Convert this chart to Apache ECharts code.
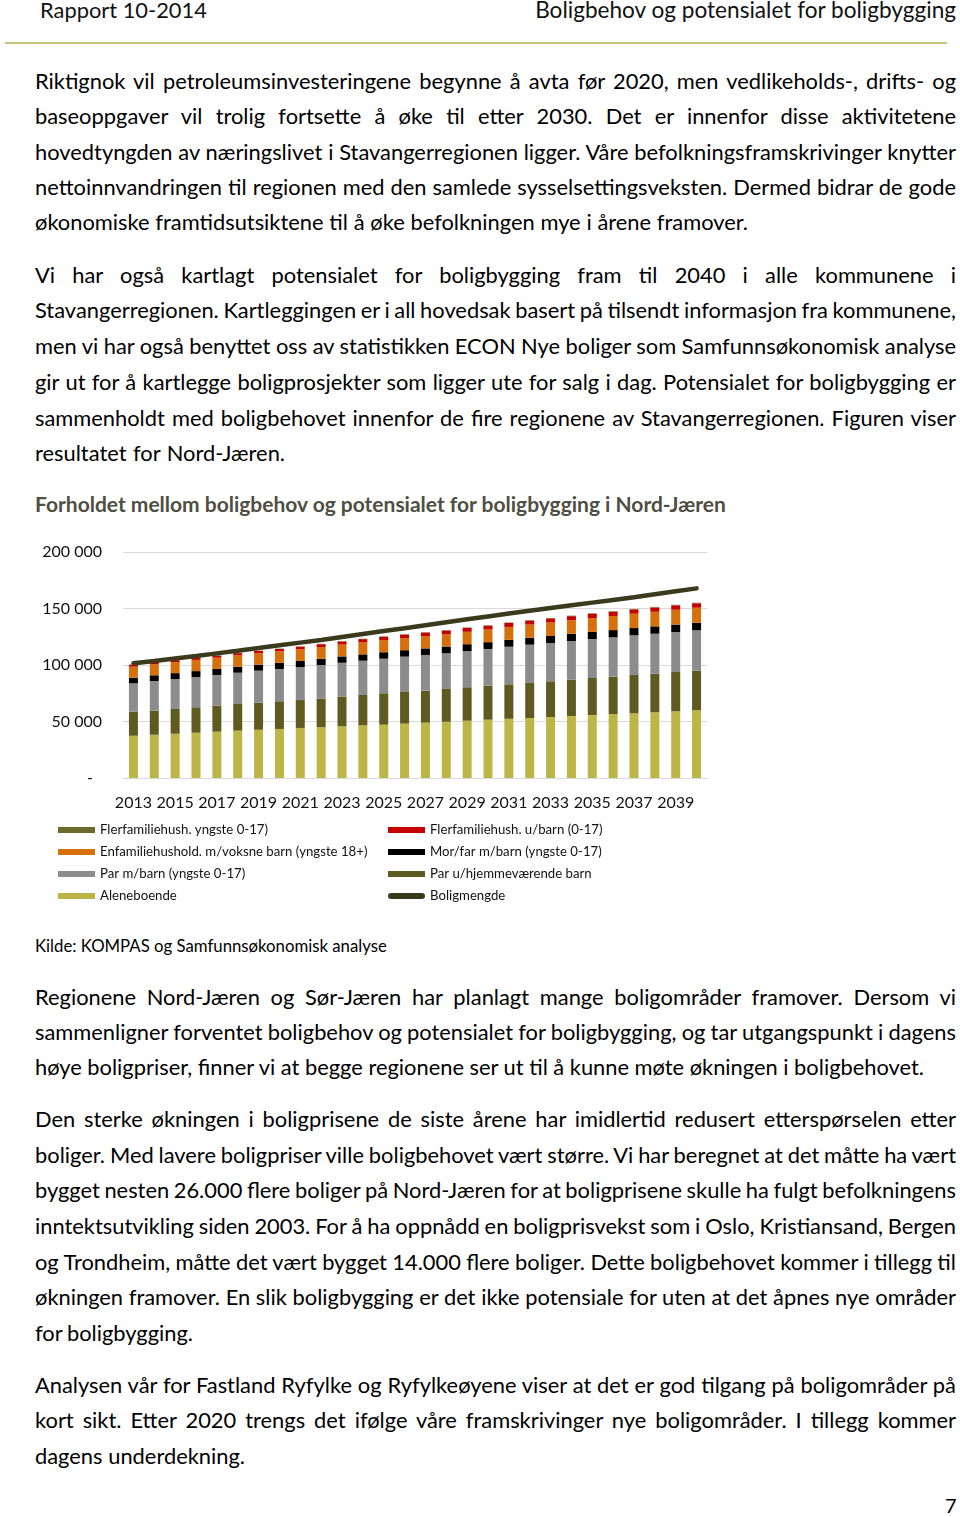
<!DOCTYPE html>
<html>
<head>
<meta charset="utf-8">
<script src="https://cdn.jsdelivr.net/npm/echarts@6/dist/echarts.min.js"></script>
<style>
html,body{margin:0;padding:0;background:#fff;}
body{width:960px;height:1517px;position:relative;overflow:hidden;font-family:Lato,"Open Sans",sans-serif;color:#000;}
.t{position:absolute;left:35px;white-space:nowrap;font-size:20px;line-height:24px;margin-top:1px;}
.hd{position:absolute;white-space:nowrap;font-size:22px;line-height:24px;color:#111;}
#hline{position:absolute;left:5px;top:42px;width:942px;height:2px;background:#c9c27a;}
#chart{position:absolute;left:0;top:530px;width:960px;height:390px;}
</style>
</head>
<body>
<div class="hd fs" style="left:40px;top:-2px" data-w="167">Rapport 10-2014</div>
<div class="hd fs" style="right:4px;top:-2px" data-w="421">Boligbehov og potensialet for boligbygging</div>
<div id="hline"></div>

<div class="t b" style="top:68px" data-w="921">Riktignok vil petroleumsinvesteringene begynne å avta før 2020, men vedlikeholds-, drifts- og</div>
<div class="t b" style="top:103px" data-w="921">baseoppgaver vil trolig fortsette å øke til etter 2030. Det er innenfor disse aktivitetene</div>
<div class="t b" style="top:139px" data-w="921">hovedtyngden av næringslivet i Stavangerregionen ligger. Våre befolkningsframskrivinger knytter</div>
<div class="t b" style="top:174px" data-w="921">nettoinnvandringen til regionen med den samlede sysselsettingsveksten. Dermed bidrar de gode</div>
<div class="t b last" style="top:209px" data-w="713">økonomiske framtidsutsiktene til å øke befolkningen mye i årene framover.</div>

<div class="t b" style="top:262px" data-w="921">Vi har også kartlagt potensialet for boligbygging fram til 2040 i alle kommunene i</div>
<div class="t b" style="top:297px" data-w="921">Stavangerregionen. Kartleggingen er i all hovedsak basert på tilsendt informasjon fra kommunene,</div>
<div class="t b" style="top:333px" data-w="921">men vi har også benyttet oss av statistikken ECON Nye boliger som Samfunnsøkonomisk analyse</div>
<div class="t b" style="top:369px" data-w="921">gir ut for å kartlegge boligprosjekter som ligger ute for salg i dag. Potensialet for boligbygging er</div>
<div class="t b" style="top:405px" data-w="921">sammenholdt med boligbehovet innenfor de fire regionene av Stavangerregionen. Figuren viser</div>
<div class="t b last" style="top:440px" data-w="250">resultatet for Nord-Jæren.</div>

<div class="t fs" style="top:491px;font-weight:bold;color:#4f4e42" data-w="691">Forholdet mellom boligbehov og potensialet for boligbygging i Nord-Jæren</div>

<div id="chart"></div>

<div class="t fs" style="top:935px;font-size:16px;line-height:20px" data-w="352">Kilde: KOMPAS og Samfunnsøkonomisk analyse</div>

<div class="t b" style="top:984px" data-w="921">Regionene Nord-Jæren og Sør-Jæren har planlagt mange boligområder framover. Dersom vi</div>
<div class="t b" style="top:1019px" data-w="921">sammenligner forventet boligbehov og potensialet for boligbygging, og tar utgangspunkt i dagens</div>
<div class="t b last" style="top:1054px" data-w="889">høye boligpriser, finner vi at begge regionene ser ut til å kunne møte økningen i boligbehovet.</div>

<div class="t b" style="top:1106px" data-w="921">Den sterke økningen i boligprisene de siste årene har imidlertid redusert etterspørselen etter</div>
<div class="t b" style="top:1142px" data-w="921">boliger. Med lavere boligpriser ville boligbehovet vært større. Vi har beregnet at det måtte ha vært</div>
<div class="t b" style="top:1177px" data-w="921">bygget nesten 26.000 flere boliger på Nord-Jæren for at boligprisene skulle ha fulgt befolkningens</div>
<div class="t b" style="top:1213px" data-w="921">inntektsutvikling siden 2003. For å ha oppnådd en boligprisvekst som i Oslo, Kristiansand, Bergen</div>
<div class="t b" style="top:1249px" data-w="921">og Trondheim, måtte det vært bygget 14.000 flere boliger. Dette boligbehovet kommer i tillegg til</div>
<div class="t b" style="top:1284px" data-w="921">økningen framover. En slik boligbygging er det ikke potensiale for uten at det åpnes nye områder</div>
<div class="t b last" style="top:1320px" data-w="158">for boligbygging.</div>

<div class="t b" style="top:1372px" data-w="921">Analysen vår for Fastland Ryfylke og Ryfylkeøyene viser at det er god tilgang på boligområder på</div>
<div class="t b" style="top:1407px" data-w="921">kort sikt. Etter 2020 trengs det ifølge våre framskrivinger nye boligområder. I tillegg kommer</div>
<div class="t b last" style="top:1443px" data-w="210">dagens underdekning.</div>

<div class="t" style="left:945px;top:1492px">7</div>

<script>
// ---- data ----
const years = ['2013','2014','2015','2016','2017','2018','2019','2020','2021','2022','2023','2024','2025','2026','2027','2028','2029','2030','2031','2032','2033','2034','2035','2036','2037','2038','2039','2040'];
const aleneboende = [37400,38300,39200,40100,41000,41900,42700,43400,44300,45000,45800,46600,47200,48100,49000,49800,50700,51600,52400,53100,54000,54900,55800,56600,57200,58100,59000,59900];
const parUtenBarn = [21300,21300,21900,22500,23000,23600,23900,24500,24700,25400,26200,26900,27800,28000,28300,29000,29600,30100,30500,31000,31600,32100,32700,33100,34000,34200,34800,35100];
const parMedBarn = [25100,26200,26500,26800,27200,27700,28400,28600,29200,29600,30000,30300,30600,31300,31600,31600,32100,32500,33300,33900,33900,34200,34500,34800,35100,35400,35400,35700];
const morFar = [5000,5100,5200,5200,5300,5300,5300,5400,5400,5500,5600,5600,5700,5700,5800,5900,6000,6000,6100,6100,6200,6300,6300,6400,6400,6500,6600,6700];
const enfamVoksne = [9700,9700,9800,9900,10000,10100,10100,10200,10300,10400,10500,10600,10700,10700,10800,10900,11000,11200,11400,11700,11900,12100,12300,12500,12700,12900,13100,13300];
const flerfamUtenBarn = [1600,1600,1700,1700,1800,1900,2000,2100,2300,2500,2700,2900,3000,3100,3200,3300,3400,3400,3500,3500,3600,3600,3700,3700,3800,3800,3900,3900];
const flerfamYngste = [300,300,300,300,300,300,300,300,300,350,350,350,350,350,350,400,400,400,400,400,400,450,450,450,450,500,500,500];
const boligmengde = [101500,103600,105800,108000,110300,112600,115000,117400,119800,122200,124800,127400,130000,132600,135200,137800,140400,143000,145600,148000,150400,152800,155200,157600,160000,162600,165200,167800];
const yTicks = {0:'-',50000:'50 000',100000:'100 000',150000:'150 000',200000:'200 000'};

// ---- text fitting ----
(function(){
  document.querySelectorAll('.fs').forEach(function(el){
    const target = +el.dataset.w;
    const fs = parseFloat(getComputedStyle(el).fontSize);
    const w = el.getBoundingClientRect().width;
    el.style.fontSize = (fs * target / w) + 'px';
  });
  const lasts = document.querySelectorAll('.b.last');
  let sum = 0;
  lasts.forEach(function(el){ sum += (+el.dataset.w) / el.getBoundingClientRect().width; });
  const fsBody = 20 * sum / lasts.length;
  document.querySelectorAll('.b').forEach(function(el){ el.style.fontSize = fsBody + 'px'; });
  document.querySelectorAll('.b').forEach(function(el){
    const target = +el.dataset.w;
    const w = el.getBoundingClientRect().width;
    const n = (el.textContent.match(/ /g)||[]).length;
    if(n) el.style.wordSpacing = ((target - w)/n) + 'px';
  });
})();

// ---- chart ----
const chart = echarts.init(document.getElementById('chart'), null, {renderer:'canvas'});
const font = 'Lato';
function bar(name, data, color){
  return {name:name, type:'bar', stack:'a', data:data, barWidth:9, itemStyle:{color:color}, emphasis:{disabled:true}};
}
const legendText = {fontFamily:font, fontSize:13.2, color:'#111', lineHeight:16};
const pill = 'path://M3,0 L34,0 A3,3 0 0 1 34,6 L3,6 A3,3 0 0 1 3,0 Z';
chart.setOption({
  animation:false,
  textStyle:{fontFamily:font},
  grid:{left:123, right:253, top:22, bottom:142, containLabel:false},
  legend:[
    {orient:'vertical', left:58, top:292, padding:0, itemWidth:37, itemHeight:6, itemGap:6, selectedMode:false, textStyle:legendText, icon:'rect',
     data:['Flerfamiliehush. yngste 0-17)','Enfamiliehushold. m/voksne barn (yngste 18+)','Par m/barn (yngste 0-17)','Aleneboende']},
    {orient:'vertical', left:388, top:292, padding:0, itemWidth:37, itemHeight:6, itemGap:6, selectedMode:false, textStyle:legendText,
     data:[{name:'Flerfamiliehush. u/barn (0-17)', icon:'rect'},{name:'Mor/far m/barn (yngste 0-17)', icon:'rect'},{name:'Par u/hjemmeværende barn', icon:'rect'},{name:'Boligmengde', icon:pill, itemStyle:{color:'#3c3a1c'}}]}
  ],
  xAxis:{type:'category', data:years, axisTick:{show:false},
    axisLine:{lineStyle:{color:'#d9d9d9', width:1}},
    axisLabel:{interval:1, fontFamily:font, fontSize:16, color:'#111', margin:17}},
  yAxis:{type:'value', min:0, max:200000, interval:50000,
    axisLine:{show:false}, axisTick:{show:false},
    splitLine:{lineStyle:{color:'#d9d9d9', width:1}},
    axisLabel:{fontFamily:font, fontSize:16, color:'#111', margin:21,
      formatter:function(v){ return v===0 ? '{d|-}' : yTicks[v]; },
      rich:{d:{fontFamily:font, fontSize:16, color:'#111', padding:[0,9,0,0]}}}},
  series:[
    bar('Aleneboende', aleneboende, '#bdb545'),
    bar('Par u/hjemmeværende barn', parUtenBarn, '#5e5a20'),
    bar('Par m/barn (yngste 0-17)', parMedBarn, '#8c8c8c'),
    bar('Mor/far m/barn (yngste 0-17)', morFar, '#000000'),
    bar('Enfamiliehushold. m/voksne barn (yngste 18+)', enfamVoksne, '#d6700c'),
    bar('Flerfamiliehush. u/barn (0-17)', flerfamUtenBarn, '#c40000'),
    bar('Flerfamiliehush. yngste 0-17)', flerfamYngste, '#6d6a2c'),
    {name:'Boligmengde', type:'line', data:boligmengde, symbol:'none', z:5,
     lineStyle:{color:'#3c3a1c', width:4.5, cap:'round'}, itemStyle:{color:'#3c3a1c'}, emphasis:{disabled:true}}
  ]
});
</script>
</body>
</html>
